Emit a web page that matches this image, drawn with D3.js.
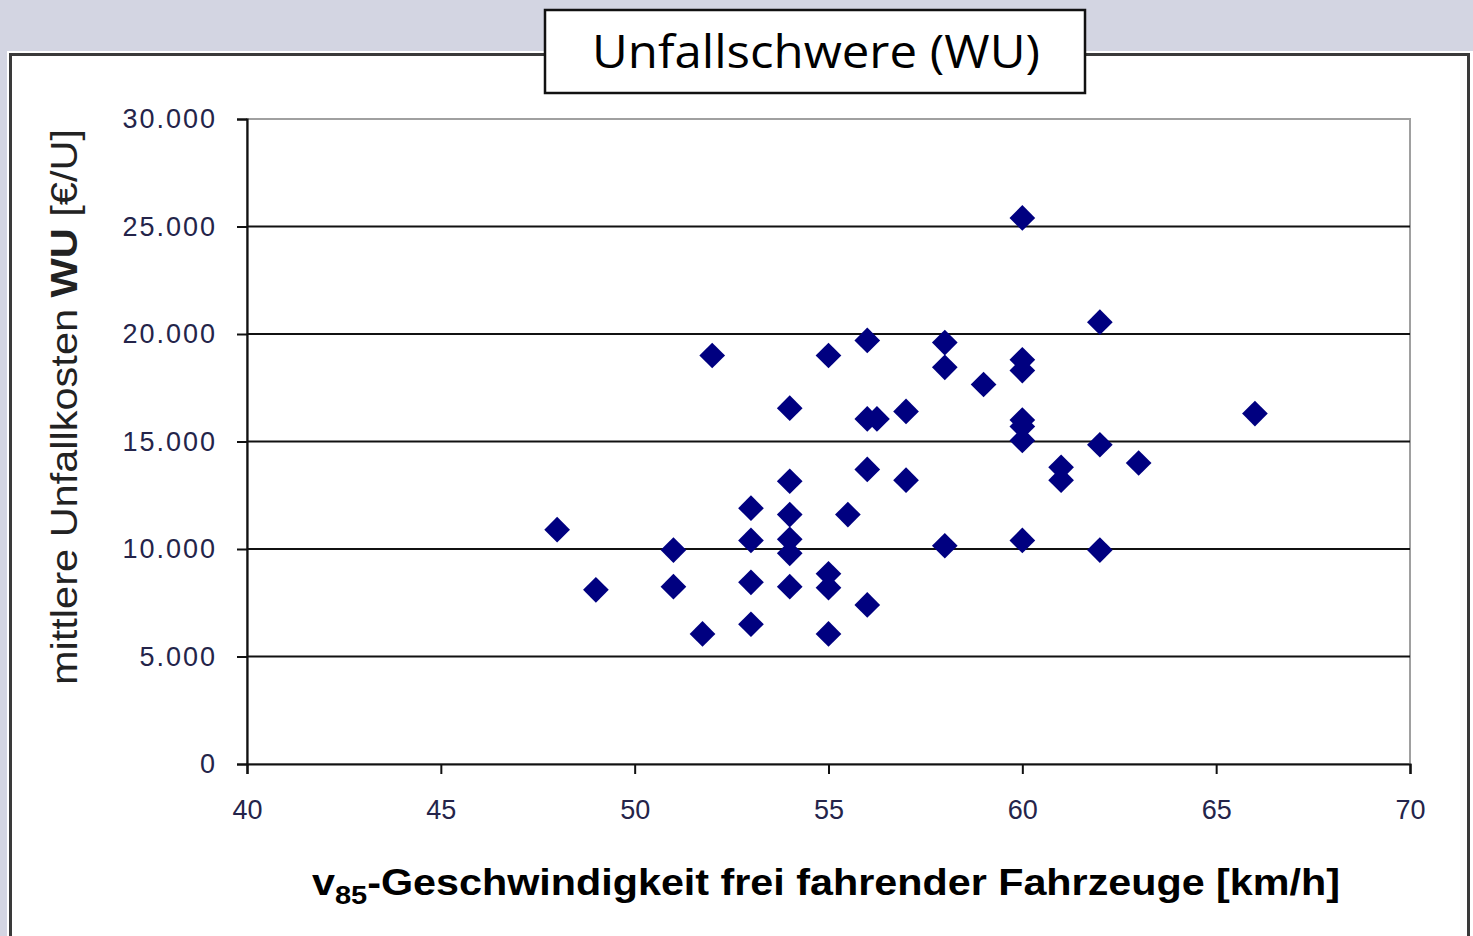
<!DOCTYPE html>
<html>
<head>
<meta charset="utf-8">
<script src="https://cdn.jsdelivr.net/npm/d3@7"></script>
<style>
  body { margin: 0; background: #d3d5e2; }
  svg { display: block; }
</style>
</head>
<body>
<svg id="chart" width="1473" height="936"></svg>
<script>
// v85 speed [km/h] and mean accident cost WU [EUR/U]
var speed = [60, 62, 52, 55, 56, 58, 58, 60, 60, 59,
             54, 56, 56.25, 57, 60, 60, 60, 66, 62, 63,
             61, 61, 56, 57, 54, 53, 54, 55.5, 48, 53,
             54, 54, 58, 60, 62, 51, 49, 51, 53, 54,
             55, 55, 56, 51.75, 53, 55];
var cost  = [25400, 20550, 19000, 19000, 19700, 19600, 18450, 18800, 18300, 17650,
             16550, 16050, 16050, 16400, 16000, 15700, 15050, 16300, 14850, 14000,
             13800, 13200, 13700, 13200, 13150, 11900, 11600, 11600, 10900, 10400,
             10450, 9800, 10150, 10400, 9950, 9950, 8100, 8250, 8450, 8250,
             8850, 8200, 7400, 6050, 6500, 6050];
var xTicks = [40, 45, 50, 55, 60, 65, 70];
var yTicks = [0, 5000, 10000, 15000, 20000, 25000, 30000];

(function(){
var svg = d3.select("#chart");

// outer chart box
svg.append("rect")
  .attr("x", 7).attr("y", 51).attr("width", 1466).attr("height", 900)
  .attr("fill", "#fff");
svg.append("rect")
  .attr("x", 10.5).attr("y", 54.5).attr("width", 1458).attr("height", 900)
  .attr("fill", "none").attr("stroke", "#3a3a3a").attr("stroke-width", 3);

var pl = 247, pr = 1410, pt = 119, pb = 764;
var x = d3.scaleLinear().domain([40, 70]).range([pl, pr]);
var y = d3.scaleLinear().domain([0, 30000]).range([pb, pt]);

// plot area frame (light gray)
svg.append("rect")
  .attr("x", pl).attr("y", pt).attr("width", pr - pl).attr("height", pb - pt)
  .attr("fill", "#fff").attr("stroke", "#a0a0a0").attr("stroke-width", 2);

// gridlines
svg.append("g").selectAll("line")
  .data(yTicks.filter(function(d){ return d > 0 && d < 30000; }))
  .enter().append("line")
  .attr("x1", pl).attr("x2", pr)
  .attr("y1", function(d){ return y(d); })
  .attr("y2", function(d){ return y(d); })
  .attr("stroke", "#111").attr("stroke-width", 2.2);

var deFormat = function(d){
  return d === 0 ? "0" : d3.format(",")(d).replace(/,/g, ".");
};

var yAxis = svg.append("g")
  .attr("transform", "translate(" + pl + ",0)")
  .call(d3.axisLeft(y).tickValues(yTicks).tickSize(10).tickPadding(20).tickFormat(deFormat));
var xAxis = svg.append("g")
  .attr("transform", "translate(0," + pb + ")")
  .call(d3.axisBottom(x).tickValues(xTicks).tickSize(10).tickPadding(26).tickFormat(d3.format("d")));

[yAxis, xAxis].forEach(function(a){
  a.select(".domain").attr("stroke", "#111").attr("stroke-width", 2.2);
  a.selectAll(".tick line").attr("stroke", "#111").attr("stroke-width", 2);
  a.selectAll("text")
    .attr("fill", "#24244a")
    .style("font-family", "'Liberation Sans', Arial, sans-serif")
    .style("font-size", "27px");
});
yAxis.selectAll("text").attr("dy", "0.32em").style("letter-spacing", "2px");

// markers
svg.append("g").selectAll("path")
  .data(speed.map(function(s, i){ return [s, cost[i]]; }))
  .enter().append("path")
  .attr("d", d3.symbol().type(d3.symbolSquare).size(330))
  .attr("transform", function(d){ return "translate(" + x(d[0]) + "," + y(d[1]) + ") rotate(45)"; })
  .attr("fill", "#000080");

// y axis title
var yt = svg.append("text")
  .attr("transform", "translate(77,407) rotate(-90)")
  .attr("text-anchor", "middle")
  .attr("fill", "#222")
  .attr("textLength", 556).attr("lengthAdjust", "spacingAndGlyphs")
  .style("font-family", "'Liberation Sans', Arial, sans-serif")
  .style("font-size", "36px");
yt.append("tspan").text("mittlere Unfallkosten ");
yt.append("tspan").attr("font-weight", "bold").text("WU");
yt.append("tspan").text(" [€/U]");

// x axis title
var xt = svg.append("text")
  .attr("x", 312).attr("y", 895)
  .attr("fill", "#000")
  .attr("textLength", 1028).attr("lengthAdjust", "spacingAndGlyphs")
  .style("font-family", "'Liberation Sans', Arial, sans-serif")
  .style("font-size", "37px")
  .style("font-weight", "bold");
xt.append("tspan").text("v");
xt.append("tspan").attr("dy", 9).style("font-size", "26px").text("85");
xt.append("tspan").attr("dy", -9).text("-Geschwindigkeit frei fahrender Fahrzeuge [km/h]");

// title box
svg.append("rect")
  .attr("x", 545).attr("y", 10).attr("width", 540).attr("height", 83)
  .attr("fill", "#fff").attr("stroke", "#111").attr("stroke-width", 2.5);
svg.append("text")
  .attr("x", 816).attr("y", 68)
  .attr("text-anchor", "middle")
  .attr("fill", "#000")
  .attr("textLength", 448).attr("lengthAdjust", "spacingAndGlyphs")
  .style("font-family", "'Open Sans', Lato, sans-serif")
  .style("font-size", "46px")
  .text("Unfallschwere (WU)");
})();
</script>
</body>
</html>
